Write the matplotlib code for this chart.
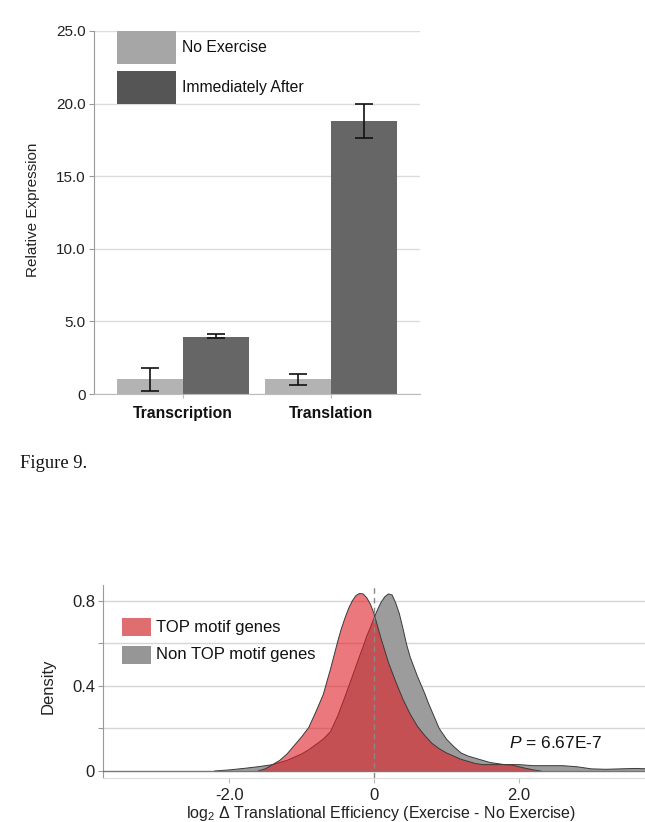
import matplotlib
matplotlib.use("Agg")
import matplotlib.pyplot as plt
from matplotlib.patches import Rectangle
import numpy as np

plt.rcParams['font.family'] = ['Liberation Sans', 'DejaVu Sans']
plt.rcParams['mathtext.fontset'] = 'custom'
plt.rcParams['mathtext.rm'] = 'Liberation Sans'
plt.rcParams['mathtext.it'] = 'Liberation Sans:italic'

# ---------------- Data: bar chart ----------------
categories = ["Transcription", "Translation"]
series_names = ["No Exercise", "Immediately After"]
no_exercise = [1.0, 1.0]
no_exercise_lo = [0.2, 0.6]
no_exercise_hi = [1.8, 1.4]
immediately_after = [3.95, 18.8]
immediately_after_lo = [3.83, 17.6]
immediately_after_hi = [4.15, 20.0]
bar_yticks = [0, 5, 10, 15, 20, 25]
bar_yticklabels = ["0", "5.0", "10.0", "15.0", "20.0", "25.0"]

# ---------------- Data: density chart ----------------
top_x = [-1.6, -1.5, -1.4, -1.3, -1.2, -1.1, -1.0, -0.9, -0.8, -0.7,
         -0.6, -0.55, -0.5, -0.45, -0.4, -0.35, -0.3, -0.25, -0.2, -0.15,
         -0.1, -0.05, 0.0, 0.05, 0.1, 0.15, 0.2, 0.25, 0.3, 0.4,
         0.5, 0.6, 0.7, 0.8, 0.9, 1.0, 1.1, 1.2, 1.3, 1.4,
         1.5, 1.6, 1.7, 1.8, 1.9, 2.0, 2.1, 2.2, 2.3]
top_y = [0.0, 0.01, 0.03, 0.05, 0.08, 0.12, 0.16, 0.205, 0.28, 0.36,
         0.48, 0.545, 0.61, 0.67, 0.72, 0.765, 0.80, 0.825, 0.835, 0.833,
         0.815, 0.785, 0.74, 0.68, 0.62, 0.565, 0.51, 0.465, 0.42, 0.337,
         0.267, 0.21, 0.167, 0.13, 0.105, 0.085, 0.07, 0.055, 0.045, 0.035,
         0.03, 0.03, 0.03, 0.03, 0.028, 0.02, 0.012, 0.005, 0.0]
non_x = [-2.2, -2.0, -1.8, -1.6, -1.4, -1.2, -1.1, -1.0, -0.9, -0.8,
         -0.7, -0.6, -0.5, -0.4, -0.3, -0.2, -0.15, -0.1, -0.05, 0.0,
         0.05, 0.1, 0.15, 0.2, 0.25, 0.3, 0.35, 0.4, 0.45, 0.5,
         0.55, 0.6, 0.65, 0.7, 0.75, 0.8, 0.85, 0.9, 1.0, 1.1,
         1.2, 1.3, 1.4, 1.5, 1.6, 1.8, 2.0, 2.2, 2.4, 2.6,
         2.8, 3.0, 3.2, 3.4, 3.6, 3.8]
non_y = [0.0, 0.005, 0.012, 0.02, 0.03, 0.05, 0.065, 0.08, 0.10, 0.125,
         0.15, 0.185, 0.26, 0.35, 0.444, 0.54, 0.585, 0.635, 0.675, 0.72,
         0.76, 0.795, 0.82, 0.833, 0.828, 0.79, 0.74, 0.67, 0.595, 0.535,
         0.49, 0.445, 0.405, 0.365, 0.32, 0.28, 0.24, 0.20, 0.15, 0.115,
         0.085, 0.07, 0.06, 0.05, 0.04, 0.03, 0.03, 0.025, 0.025, 0.025,
         0.02, 0.01, 0.008, 0.01, 0.012, 0.01]
dens_yticks = [0, 0.4, 0.8]
dens_yticklabels = ["0", "0.4", "0.8"]
dens_minor = [0.2, 0.6]
dens_xticks = [-2.0, 0, 2.0]
dens_xticklabels = ["-2.0", "0", "2.0"]
legend_names = ["TOP motif genes", "Non TOP motif genes"]
p_text = "$\\it{P}$ = 6.67E-7"

W, H = 645, 822
fig = plt.figure(figsize=(W / 100, H / 100), dpi=100)

def fx(px):
    return px / W

def fy(py):
    return 1 - py / H

# ---------------- Top bar chart ----------------
ax1 = fig.add_axes([fx(94), fy(394), fx(420) - fx(94), fy(31) - fy(394)])
ax1.set_xlim(-0.6, 1.6)
ax1.set_ylim(0, 25)
pos = np.arange(len(categories))
bw = 0.446
light = "#b3b3b3"
dark = "#666666"
ax1.bar(pos - bw / 2, no_exercise, width=bw, color=light, zorder=2)
ax1.bar(pos + bw / 2, immediately_after, width=bw, color=dark, zorder=2)
ne = np.array(no_exercise)
ia = np.array(immediately_after)
ax1.errorbar(pos - bw / 2, ne,
             yerr=[ne - np.array(no_exercise_lo), np.array(no_exercise_hi) - ne],
             fmt="none", ecolor="#111111", elinewidth=1.2, capsize=6.5, capthick=1.2, zorder=3)
ax1.errorbar(pos + bw / 2, ia,
             yerr=[ia - np.array(immediately_after_lo), np.array(immediately_after_hi) - ia],
             fmt="none", ecolor="#111111", elinewidth=1.2, capsize=6.5, capthick=1.2, zorder=3)
ax1.set_yticks(bar_yticks)
ax1.set_yticklabels(bar_yticklabels)
ax1.set_xticks(pos)
ax1.set_xticklabels(categories, fontweight="bold", fontsize=11.3, color="#111111")
ax1.yaxis.grid(True, color="#dcdcdc", linewidth=1.0, zorder=0)
ax1.set_axisbelow(True)
for s in ["top", "right"]:
    ax1.spines[s].set_visible(False)
ax1.spines["left"].set_color("#999999")
ax1.spines["bottom"].set_color("#bbbbbb")
ax1.tick_params(axis="y", length=3.6, width=0.8, color="#999999", pad=2.2,
                labelsize=11, labelcolor="#222222")
ax1.tick_params(axis="x", length=3, width=0.8, color="#bbbbbb", pad=5.5)
fig.text(fx(33), fy(210), "Relative Expression", rotation=90, ha="center", va="center",
         fontsize=11, color="#222222")

# legend (top)
leg_colors = ["#a6a6a6", "#555555"]
for i, (name, c) in enumerate(zip(series_names, leg_colors)):
    y0 = 31 + i * 40
    fig.add_artist(Rectangle((fx(117), fy(y0 + 33)), fx(176) - fx(117), fy(y0) - fy(y0 + 33),
                             transform=fig.transFigure, facecolor=c, edgecolor="none"))
    fig.text(fx(182), fy(y0 + 16.5), name, ha="left", va="center", fontsize=11.3, color="#111111")

# caption
fig.text(fx(20), fy(463), "Figure 9.", family=["Liberation Serif"], fontsize=13.3,
         ha="left", va="center", color="#111111")

# ---------------- Bottom density chart ----------------
ax2 = fig.add_axes([fx(103), fy(778), 1.0 - fx(103), fy(585) - fy(778)])
ax2.set_xlim(-3.74, 3.74)
ax2.set_ylim(-0.033, 0.875)
ax2.fill_between(non_x, non_y, 0, facecolor="#9c9c9c", edgecolor="none", zorder=2)
ax2.plot(non_x, non_y, color="#3a3a3a", linewidth=0.7, zorder=2.1)
ax2.fill_between(top_x, top_y, 0, facecolor=(223 / 255, 30 / 255, 37 / 255), alpha=0.6,
                 edgecolor="none", zorder=3)
ax2.plot(top_x, top_y, color="#3a3a3a", linewidth=0.7, zorder=3.1)
ax2.axhline(0, color="#777777", linewidth=1.0, zorder=3.2)
ax2.axvline(0, color="#888888", linewidth=1.0, linestyle=(0, (4, 3)), zorder=3.3)
ax2.set_yticks(dens_yticks)
ax2.set_yticklabels(dens_yticklabels)
ax2.set_yticks(dens_minor, minor=True)
ax2.set_xticks(dens_xticks)
ax2.set_xticklabels(dens_xticklabels)
for yv in dens_minor + dens_yticks[1:]:
    ax2.axhline(yv, color="#d6d6d6", linewidth=1.0, zorder=0)
for s in ["top", "right"]:
    ax2.spines[s].set_visible(False)
ax2.spines["left"].set_color("#999999")
ax2.spines["bottom"].set_color("#dddddd")
ax2.tick_params(axis="y", which="both", length=3.3, width=0.8, color="#999999", pad=2.5,
                labelsize=12, labelcolor="#222222")
ax2.tick_params(axis="x", length=3.5, width=0.8, color="#bbbbbb", pad=4,
                labelsize=12, labelcolor="#222222")
fig.text(fx(48), fy(686), "Density", rotation=90, ha="center", va="center",
         fontsize=12, color="#222222")
fig.text(fx(381), fy(813), "log$_2$ \u0394 Translational Efficiency (Exercise - No Exercise)",
         ha="center", va="center", fontsize=11.5, color="#222222")
fig.text(fx(509), fy(743), p_text, ha="left", va="center", fontsize=12.5, color="#111111")

# legend (bottom)
leg2_colors = ["#de6e70", "#969696"]
for i, (name, c) in enumerate(zip(legend_names, leg2_colors)):
    y0 = 618 + i * 27.5
    fig.add_artist(Rectangle((fx(122), fy(y0 + 18)), fx(151) - fx(122), fy(y0) - fy(y0 + 18),
                             transform=fig.transFigure, facecolor=c, edgecolor="none"))
    fig.text(fx(156), fy(y0 + 9), name, ha="left", va="center", fontsize=12, color="#111111")

fig.savefig("out.png", dpi=100)
